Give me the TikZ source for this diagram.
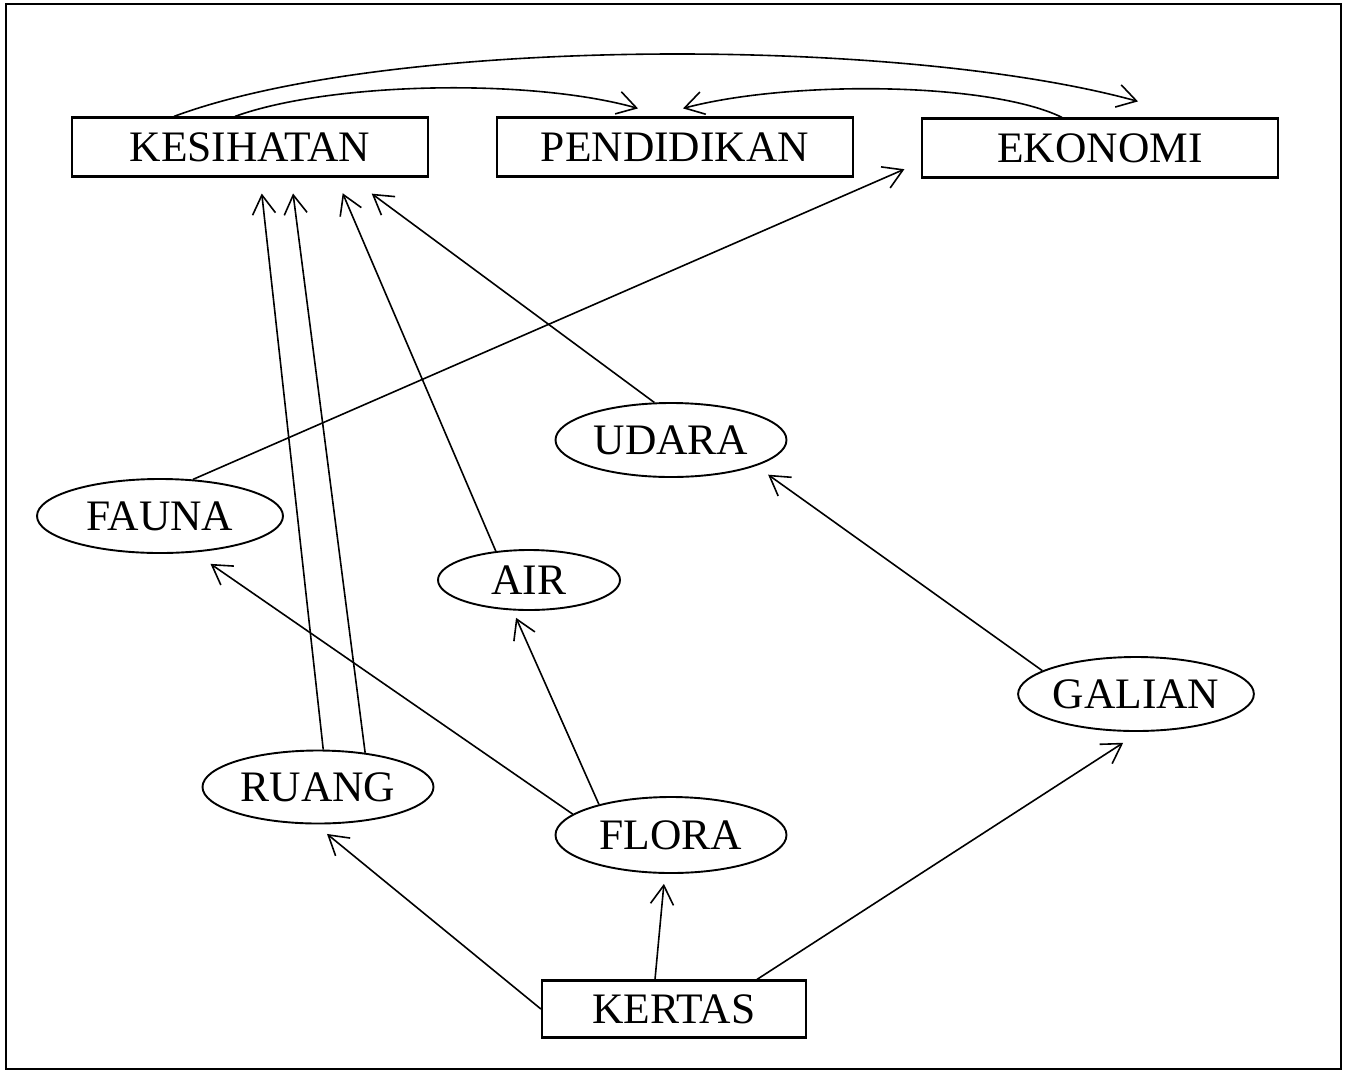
\documentclass[tikz,border=0pt]{standalone}
\usepackage{fontspec}
\setmainfont{Liberation Serif}
\usetikzlibrary{shapes.geometric,arrows.meta}
\begin{document}
\begin{tikzpicture}[x=1pt,y=-1pt,
  box/.style={draw,line width=2.2pt,rectangle,minimum width=356pt,minimum height=59pt,inner sep=0pt,font=\fontsize{43.5}{50}\selectfont},
  oval/.style={draw,line width=1.9pt,ellipse,minimum width=231pt,minimum height=74pt,inner sep=0pt,font=\fontsize{43.5}{50}\selectfont},
  arr/.style={line width=1.6pt,-{Straight Barb[length=19pt,width=23pt]}}]
\useasboundingbox (0,0) rectangle (1349,1072);
\draw[line width=2.5pt] (6,4) rectangle (1341,1069);

\node[box] (kes) at (250,147) {KESIHATAN};
\node[box] (ped) at (675,147) {PENDIDIKAN};
\node[box] (eko) at (1100,148) {EKONOMI};
\node[oval] (udara) at (671,440) {UDARA};
\node[oval,minimum width=246pt] (fauna) at (160,516) {FAUNA};
\node[oval,minimum width=182pt,minimum height=60pt] (air) at (529,580) {AIR};
\node[oval] (galian) at (1136,694) {GALIAN};
\node[oval,minimum height=73pt] (ruang) at (318,787) {RUANG};
\node[oval,minimum height=76pt] (flora) at (671,835) {FLORA};
\node[box,minimum width=264pt,minimum height=57pt] (kertas) at (674,1009) {KERTAS};

\coordinate (t1) at ([xshift=38pt,yshift=16pt]eko.north);
\coordinate (t2) at ([xshift=-37pt,yshift=8pt]ped.north);
\coordinate (t3) at ([xshift=8pt,yshift=8pt]ped.north);

\draw[arr] ([xshift=-76pt]kes.north) .. controls (390,36) and (900,36) .. (t1);
\draw[arr] ([xshift=-15pt]kes.north) .. controls (330,82) and (530,78) .. (t2);
\draw[arr] ([xshift=-38pt]eko.north) .. controls (990,82) and (790,80) .. (t3);

\draw[arr,shorten >=18pt] (fauna.48) -- ([yshift=-14pt]eko.west);
\draw[arr,shorten >=16pt] (ruang.82) -- ([xshift=10pt]kes.south);
\draw[arr,shorten >=16pt] (ruang.36) -- ([xshift=41pt]kes.south);
\draw[arr,shorten >=17pt] (air.139) -- ([xshift=86pt]kes.south);
\draw[arr,shorten >=27pt] (udara.114) -- ([xshift=100pt]kes.south);
\draw[arr,shorten >=15pt] (galian.166) -- (udara.-17);
\draw[arr,shorten >=20pt] (flora.168) -- (fauna.-47);
\draw[arr,shorten >=8pt] (flora.157) -- (air.242);
\draw[arr,shorten >=15pt] (kertas.west) -- (ruang.-94);
\draw[arr,shorten >=10pt] ([xshift=-19pt]kertas.north) -- (flora.-99);
\draw[arr,shorten >=20pt] ([xshift=83pt]kertas.north) -- (galian.-84);
\end{tikzpicture}
\end{document}
